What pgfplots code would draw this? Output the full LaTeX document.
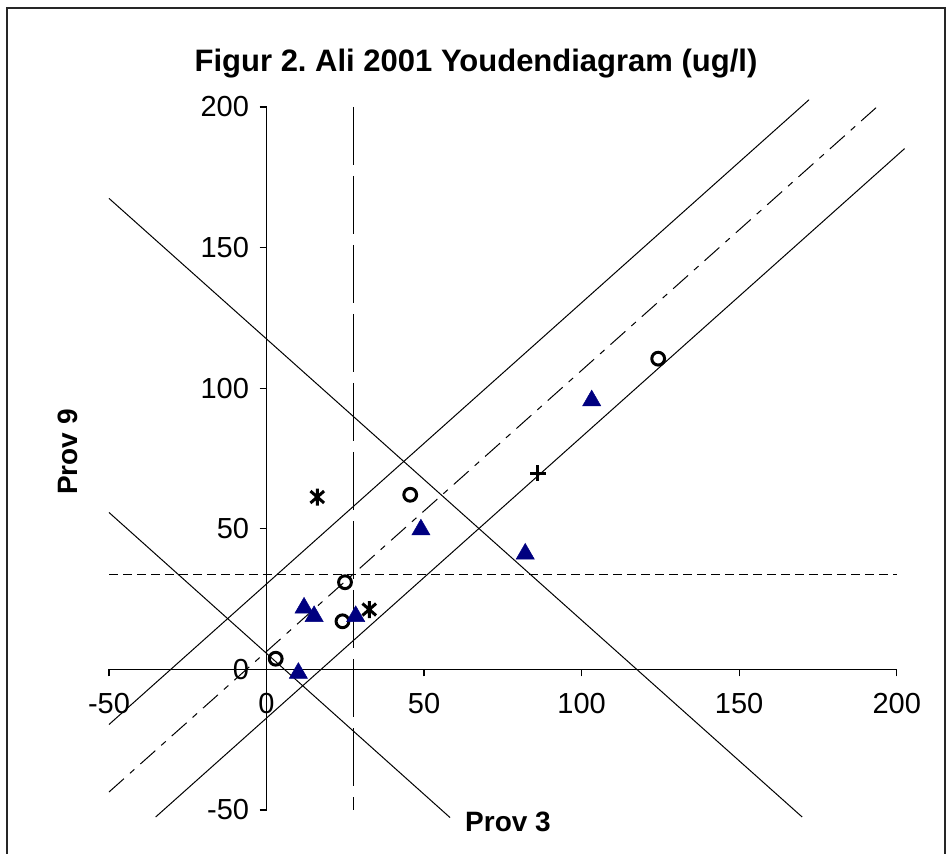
\documentclass[border=0pt]{standalone}
\usepackage{pgfplots}
\pgfplotsset{compat=1.18}
\usepackage{fontspec}
\setmainfont{Liberation Sans}
\definecolor{navyx}{RGB}{0,0,128}
\pgfdeclareplotmark{xstar}{%
  \pgfpathmoveto{\pgfqpoint{0pt}{\pgfplotmarksize}}%
  \pgfpathlineto{\pgfqpoint{0pt}{-\pgfplotmarksize}}%
  \pgfpathmoveto{\pgfqpoint{-0.8\pgfplotmarksize}{0.7\pgfplotmarksize}}%
  \pgfpathlineto{\pgfqpoint{0.8\pgfplotmarksize}{-0.7\pgfplotmarksize}}%
  \pgfpathmoveto{\pgfqpoint{-0.8\pgfplotmarksize}{-0.7\pgfplotmarksize}}%
  \pgfpathlineto{\pgfqpoint{0.8\pgfplotmarksize}{0.7\pgfplotmarksize}}%
  \pgfusepathqstroke}
\frenchspacing
\begin{document}
\begin{tikzpicture}
\path[use as bounding box] (0,0) rectangle (949pt,853pt);
\draw[line width=2pt, black!85] (7pt,-20pt) rectangle (945pt,845pt);
\begin{axis}[
  at={(109pt,43pt)}, anchor=south west,
  scale only axis, width=787.7pt, height=703pt,
  xmin=-50,xmax=200,ymin=-50,ymax=200,
  axis lines=middle, axis line style={-, line width=1.2pt},
  xtick={-50,0,50,100,150,200}, ytick={-50,0,50,100,150,200},
  hide obscured x ticks=false, hide obscured y ticks=false,
  tick align=outside, major tick length=7pt, tick style={line width=1.2pt, black},
  tick label style={font=\fontsize{29}{34}\selectfont},
  xticklabel style={yshift=-13pt},
  yticklabel style={xshift=-7pt},
  /pgf/number format/assume math mode=true,
  clip=false,
]
\addplot[no marks, line width=1pt, dash pattern=on 58pt off 11pt] coordinates {(27.66,200) (27.66,-50)};
\addplot[no marks, line width=1pt, dash pattern=on 9pt off 5pt] coordinates {(-50,33.7) (200,33.7)};
\addplot[no marks, line width=1pt, dash pattern=on 20pt off 8pt on 6pt off 8pt] coordinates {(-50,-43.6) (193.7,200)};
\addplot[no marks, line width=1pt] coordinates {(-50,-19.6) (172.2,202.6)};
\addplot[no marks, line width=1pt] coordinates {(-35.2,-52.5) (202.5,185.2)};
\addplot[no marks, line width=1pt] coordinates {(-50,167.5) (170,-52.5)};
\addplot[no marks, line width=1pt] coordinates {(-50,55.8) (58.25,-52.7)};
% circles
\addplot[only marks, mark=o, mark size=6.4pt, black, line width=3pt, mark options={line width=3pt, black}] coordinates {
(2.9,3.8) (24.1,17.1) (24.9,31.0) (45.6,62.1) (124.3,110.5)};
% triangles
\addplot[only marks, mark=triangle*, mark size=10.5pt, mark options={line width=0.5pt, draw=navyx, fill=navyx, yshift=-2.6pt}] coordinates {
(10.1,-0.4) (11.9,22.8) (15.1,19.8) (28.3,19.8) (49.0,50.6) (82.1,42.0) (103.2,96.5)};
% stars
\addplot[only marks, mark=xstar, mark size=8.5pt, black, line width=3pt, mark options={line width=3pt, black}] coordinates {
(16.1,61.3) (32.6,21.3)};
% plus
\addplot[only marks, mark=+, mark size=7.8pt, black, line width=3pt, mark options={line width=3pt, black}] coordinates {
(86.1,69.8)};
\end{axis}
\node[font=\bfseries\fontsize{31}{36}\selectfont] at (476pt,789pt) {Figur 2. Ali 2001 Youdendiagram (ug/l)};
\node[font=\bfseries\fontsize{28}{33}\selectfont] at (508pt,31pt) {Prov 3};
\node[font=\bfseries\fontsize{28}{33}\selectfont, rotate=90] at (68pt,401pt) {Prov 9};
\end{tikzpicture}
\end{document}
